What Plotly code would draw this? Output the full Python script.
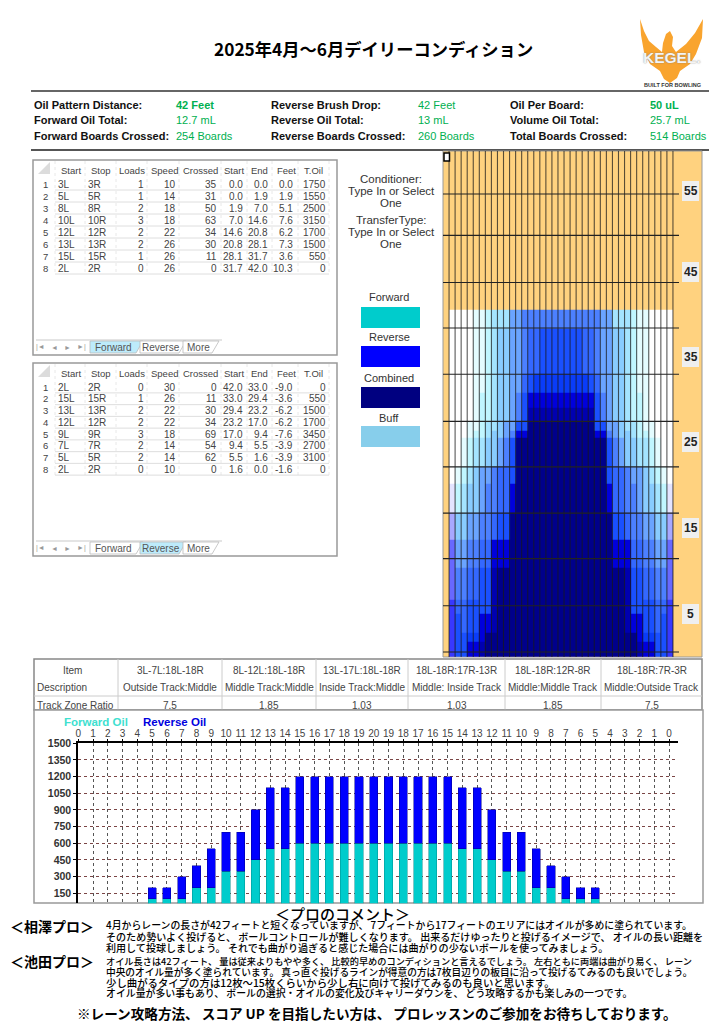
import plotly.graph_objects as go

W, H = 724, 1024
SANS = "Liberation Sans, Arial, sans-serif"
JP = "Noto Sans CJK JP, sans-serif"

# ---------------- data ----------------
title = "2025年4月～6月デイリーコンディション"
info_rows = [
    [("Oil Pattern Distance:", "42 Feet", True), ("Reverse Brush Drop:", "42 Feet", False), ("Oil Per Board:", "50 uL", True)],
    [("Forward Oil Total:", "12.7 mL", False), ("Reverse Oil Total:", "13 mL", False), ("Volume Oil Total:", "25.7 mL", False)],
    [("Forward Boards Crossed:", "254 Boards", False), ("Reverse Boards Crossed:", "260 Boards", False), ("Total Boards Crossed:", "514 Boards", False)],
]
table_header = ["Start", "Stop", "Loads", "Speed", "Crossed", "Start", "End", "Feet", "T.Oil"]
fwd_start = ["3L", "5L", "8L", "10L", "12L", "13L", "15L", "2L"]
fwd_stop = ["3R", "5R", "8R", "10R", "12R", "13R", "15R", "2R"]
fwd_loads = [1, 1, 2, 3, 2, 2, 1, 0]
fwd_speed = [10, 14, 18, 18, 22, 26, 26, 26]
fwd_crossed = [35, 31, 50, 63, 34, 30, 11, 0]
fwd_from = ["0.0", "0.0", "1.9", "7.0", "14.6", "20.8", "28.1", "31.7"]
fwd_end = ["0.0", "1.9", "7.0", "14.6", "20.8", "28.1", "31.7", "42.0"]
fwd_feet = ["0.0", "1.9", "5.1", "7.6", "6.2", "7.3", "3.6", "10.3"]
fwd_toil = [1750, 1550, 2500, 3150, 1700, 1500, 550, 0]
rev_start = ["2L", "15L", "13L", "12L", "9L", "7L", "5L", "2L"]
rev_stop = ["2R", "15R", "13R", "12R", "9R", "7R", "5R", "2R"]
rev_loads = [0, 1, 2, 2, 3, 2, 2, 0]
rev_speed = [30, 26, 22, 22, 18, 14, 14, 10]
rev_crossed = [0, 11, 30, 34, 69, 54, 62, 0]
rev_from = ["42.0", "33.0", "29.4", "23.2", "17.0", "9.4", "5.5", "1.6"]
rev_end = ["33.0", "29.4", "23.2", "17.0", "9.4", "5.5", "1.6", "0.0"]
rev_feet = ["-9.0", "-3.6", "-6.2", "-6.2", "-7.6", "-3.9", "-3.9", "-1.6"]
rev_toil = [0, 550, 1500, 1700, 3450, 2700, 3100, 0]

zone_items = ["3L-7L:18L-18R", "8L-12L:18L-18R", "13L-17L:18L-18R", "18L-18R:17R-13R", "18L-18R:12R-8R", "18L-18R:7R-3R"]
zone_desc = ["Outside Track:Middle", "Middle Track:Middle", "Inside Track:Middle", "Middle: Inside Track", "Middle:Middle Track", "Middle:Outside Track"]
zone_ratio = ["7.5", "1.85", "1.03", "1.03", "1.85", "7.5"]

board_labels = list(range(0, 21)) + list(range(19, -1, -1))
forward_oil = [0, 0, 0, 0, 0, 100, 100, 100, 200, 200, 350, 350, 450, 550, 550, 600, 600, 600, 600, 600, 600,
               600, 600, 600, 600, 600, 550, 550, 450, 350, 350, 200, 200, 100, 100, 100, 0, 0, 0, 0, 0]
reverse_oil = [0, 0, 0, 0, 0, 100, 100, 200, 200, 350, 350, 350, 450, 550, 550, 600, 600, 600, 600, 600, 600,
               600, 600, 600, 600, 600, 550, 550, 450, 350, 350, 350, 200, 200, 100, 100, 0, 0, 0, 0, 0]
oil_ticks = [150, 300, 450, 600, 750, 900, 1050, 1200, 1350, 1500]

heat_colors = ["#ffffff", "#e4fcff", "#c0f6ff", "#a4e4ff", "#88ccff", "#6aa4ff", "#4c80ff", "#3468ff", "#1a50ff",
               "#0a3cf8", "#0000dc", "#0000b0", "#00008b", "#e4e4ff", "#a8a8ff", "#6868ff", "#3838ff"]
band_feet = [42, 39.7, 34.2, 32, 30.1, 28.4, 27.4, 26.5, 23, 20.9, 17.5, 14.2, 10.8, 6.9, 5.2, 2.9, 1.8, 0]
band_levels = [
    [0, 0, 0, 0, 1, 1, 2, 3, 3, 3, 5, 5, 6, 6, 6, 6, 6, 6, 6],
    [0, 0, 0, 0, 1, 1, 2, 3, 4, 4, 5, 5, 6, 7, 7, 8, 8, 8, 8],
    [0, 0, 0, 0, 1, 1, 2, 3, 4, 4, 5, 5, 7, 8, 9, 9, 9, 9, 9],
    [0, 0, 0, 0, 1, 2, 2, 3, 4, 4, 5, 6, 8, 10, 10, 10, 10, 10, 10],
    [0, 0, 0, 0, 1, 2, 2, 3, 4, 4, 5, 6, 8, 11, 11, 11, 11, 11, 11],
    [0, 0, 0, 1, 1, 2, 3, 3, 4, 5, 5, 8, 8, 12, 12, 12, 12, 12, 12],
    [0, 0, 0, 1, 2, 2, 3, 4, 4, 5, 6, 10, 10, 12, 12, 12, 12, 12, 12],
    [0, 0, 1, 2, 3, 3, 4, 4, 5, 6, 8, 12, 12, 12, 12, 12, 12, 12, 12],
    [0, 1, 2, 3, 4, 5, 5, 6, 7, 7, 8, 12, 12, 12, 12, 12, 12, 12, 12],
    [13, 2, 3, 4, 4, 5, 6, 6, 7, 7, 10, 12, 12, 12, 12, 12, 12, 12, 12],
    [14, 4, 4, 5, 5, 6, 6, 7, 8, 8, 12, 12, 12, 12, 12, 12, 12, 12, 12],
    [15, 5, 5, 6, 6, 7, 7, 10, 10, 10, 12, 12, 12, 12, 12, 12, 12, 12, 12],
    [15, 6, 6, 7, 7, 8, 8, 11, 12, 12, 12, 12, 12, 12, 12, 12, 12, 12, 12],
    [16, 7, 7, 8, 8, 8, 8, 11, 12, 12, 12, 12, 12, 12, 12, 12, 12, 12, 12],
    [16, 8, 7, 8, 8, 10, 10, 11, 12, 12, 12, 12, 12, 12, 12, 12, 12, 12, 12],
    [16, 8, 8, 9, 9, 10, 12, 12, 12, 12, 12, 12, 12, 12, 12, 12, 12, 12, 12],
    [16, 8, 8, 10, 10, 11, 12, 12, 12, 12, 12, 12, 12, 12, 12, 12, 12, 12, 12],
]
lane_rule_feet = [0.6, 6.2, 11.9, 17.4, 23, 28.5, 34.2, 39.8, 45.3, 51, 56]
lane_labels = ["55", "45", "35", "25", "15", "5"]
legend_names = ["Forward", "Reverse", "Combined", "Buff"]
legend_colors = ["#00CCCC", "#0000FF", "#000080", "#87CEEB"]

comment_aizawa = [
    "4月からレーンの長さが42フィートと短くなっていますが、 7フィートから17フィートのエリアにはオイルが多めに塗られています。",
    "そのため勢いよく投げると、 ボールコントロールが難しくなります。 出来るだけゆったりと投げるイメージで、 オイルの長い距離を",
    "利用して投球しましょう。 それでも曲がり過ぎると感じた場合には曲がりの少ないボールを使ってみましょう。",
]
comment_ikeda = [
    "オイル長さは42フィート、 量は従来よりもやや多く、 比較的早めのコンディションと言えるでしょう。 左右ともに両端は曲がり易く、 レーン",
    "中央のオイル量が多く塗られています。 真っ直ぐ投げるラインが得意の方は7枚目辺りの板目に沿って投げるてみるのも良いでしょう。",
    "少し曲がるタイプの方は12枚～15枚くらいから少し右に向けて投げてみるのも良いと思います。",
    "オイル量が多い事もあり、 ボールの選択・オイルの変化及びキャリーダウンを、 どう攻略するかも楽しみの一つです。",
]

# ---------------- helpers ----------------
annotations, shapes = [], []


def px(x):
    return x / W


def py(y):
    return 1 - y / H


def text(x, y, s, size=10, color="#222", anchor="left", weight=400, family=SANS, **kw):
    font = dict(size=size, color=color, family=family, weight=weight)
    font.update(kw.pop("font_extra", {}))
    annotations.append(dict(x=px(x), y=py(y), xref="paper", yref="paper", text=s, showarrow=False, xanchor=anchor,
                            yanchor="middle", font=font, borderpad=0, **kw))


def rect(x0, y0, x1, y1, fill=None, line=None, width=1, layer="below"):
    shapes.append(dict(type="rect", xref="paper", yref="paper", x0=px(x0), x1=px(x1), y0=py(y0), y1=py(y1),
                       fillcolor=fill if fill else "rgba(0,0,0,0)",
                       line=dict(color=line if line else "rgba(0,0,0,0)", width=width if line else 0), layer=layer))


def seg(x0, y0, x1, y1, color="#888", width=1, dash="solid", layer="below"):
    shapes.append(dict(type="line", xref="paper", yref="paper", x0=px(x0), x1=px(x1), y0=py(y0), y1=py(y1),
                       line=dict(color=color, width=width, dash=dash), layer=layer))


def poly(points, fill=None, line=None, width=1, layer="above"):
    d = "M " + " L ".join(f"{px(a):.5f} {py(b):.5f}" for a, b in points) + " Z"
    shapes.append(dict(type="path", xref="paper", yref="paper", path=d, fillcolor=fill if fill else "rgba(0,0,0,0)",
                       line=dict(color=line if line else "rgba(0,0,0,0)", width=width if line else 0), layer=layer))


# ---------------- header ----------------
text(374, 48, title, size=17.3, color="#000", anchor="center", weight=700, family=JP)
seg(31, 91, 709, 91, "#333", 1.5)
seg(31, 150, 709, 150, "#555", 2)
for r, yy in zip(info_rows, [105, 120, 135.5]):
    for (lab, val, bold), xl, xv in zip(r, [33, 270, 509], [175, 417, 649]):
        text(xl, yy, lab, size=11, color="#111", weight=700)
        text(xv, yy, val, size=11, color="#00B050", weight=700 if bold else 400)

poly([(640, 19), (644, 31), (649, 41), (656, 47), (662, 52), (663, 43), (666, 34), (670, 31), (673, 37), (672, 46),
      (676, 52), (686, 44), (695, 33), (703, 19), (702, 38), (696, 54), (690, 64), (680, 71), (677, 78), (670, 83),
      (664, 79), (660, 71), (650, 64), (644, 52), (641, 35)], fill="#F9A42E", layer="below")
text(672, 57, "KEGEL.", size=15.5, color="#f4f4f4", anchor="center", weight=700,
     font_extra=dict(shadow="0 0 1.5px #777"))
text(672, 85, "BUILT FOR BOWLING", size=5.5, color="#333", anchor="center", weight=700)


# ---------------- oil pattern tables ----------------
col_lines = [55, 85, 116, 147, 179, 221, 247, 272, 298, 329]
head_x = [71, 101, 132, 164, 200, 234, 259, 286, 313]
cell_x = [57, 87, 145, 177, 218, 244, 269, 294, 327]


def sheet(top, bottom, head_y, row0, step, columns, active):
    rect(33, top, 337, bottom, fill="#fff", line="#999", width=1.5)
    poly([(50, head_y - 8), (50, head_y + 4), (38, head_y + 4)], fill="#dcdcdc", layer="below")
    grid_bot = row0 + 7.5 * step
    for x in col_lines:
        seg(x, head_y - 9, x, grid_bot, "#e2e2e2", 0.8, "dot")
    for i in range(8):
        seg(55, row0 + (i + 0.5) * step, 329, row0 + (i + 0.5) * step, "#d6d6d6", 0.8)
    for s, x in zip(table_header, head_x):
        text(x, head_y, s, size=9.5, color="#444", anchor="center")
    for i in range(8):
        y = row0 + i * step
        text(45, y, str(i + 1), size=9.5, color="#444", anchor="center")
        for j, (col, x) in enumerate(zip(columns, cell_x)):
            text(x, y, str(col[i]), size=10, color="#444", anchor="left" if j < 2 else "right")
    ty = bottom - 8
    seg(36, ty - 7, 222, ty - 7, "#bbb", 0.8)
    for sym, x in zip(["|◄", "◄", "►", "►|"], [40, 54, 67, 81]):
        text(x, ty, sym, size=7, color="#999", anchor="center")
    tabs = [("Forward", 90, 138), ("Reverse", 140, 181), ("More", 183, 214)]
    for name, x0, x1 in tabs:
        on = name == active
        poly([(x0, ty - 6), (x1 + 5, ty - 6), (x1 - 2, ty + 6), (x0, ty + 6)], fill="#BDEBFB" if on else "#fff",
             line="#bbb", width=0.8, layer="below")
        text((x0 + x1) / 2, ty, name, size=10, color="#555", anchor="center")


sheet(160, 355, 170, 184, 12, [fwd_start, fwd_stop, fwd_loads, fwd_speed, fwd_crossed, fwd_from, fwd_end, fwd_feet, fwd_toil], "Forward")
sheet(363, 556, 373, 387, 11.75, [rev_start, rev_stop, rev_loads, rev_speed, rev_crossed, rev_from, rev_end, rev_feet, rev_toil], "Reverse")

# ---------------- middle labels and legend ----------------
for s, y in zip(["Conditioner:", "Type In or Select", "One", "TransferType:", "Type In or Select", "One"],
                [179, 191, 203, 220, 232, 244]):
    text(391, y, s, size=11.5, color="#333", anchor="center")
for name, color, ly, t0 in zip(legend_names, legend_colors, [297, 337, 378, 418], [307, 346, 387, 426]):
    text(389, ly, name, size=11, color="#333", anchor="center")
    rect(361, t0, 420, t0 + 21, fill=color)

# ---------------- lane frame ----------------
rect(443, 151, 702, 657, fill="#FFD27F", line="#999", width=1)
for s, y in zip(lane_labels, [191, 272, 357, 442, 528, 614]):
    rect(682, y - 10, 699, y + 10, fill="#EFEFEF")
    text(690.5, y, s, size=12, color="#222", anchor="center", weight=700)

# ---------------- zone table ----------------
rect(34, 659, 702, 710, fill="#fff", line="#888", width=1.5)
zone_edges = [118, 222, 316, 408, 505, 601, 702]
for x in zone_edges[:-1]:
    seg(x, 659, x, 710, "#ccc", 1)
seg(34, 696, 702, 696, "#ccc", 1)
text(72, 670, "Item", size=10, color="#444", anchor="center")
text(36, 687, "Description", size=10, color="#444")
text(36, 705, "Track Zone Ratio", size=10, color="#444")
for i in range(6):
    xc = (zone_edges[i] + zone_edges[i + 1]) / 2
    text(xc, 670, zone_items[i], size=10, color="#444", anchor="center")
    text(xc, 687.5, zone_desc[i], size=10, color="#444", anchor="center")
    text(xc, 705.5, zone_ratio[i], size=10, color="#444", anchor="center")

# ---------------- oil graph panel ----------------
rect(34, 710, 703, 903, fill="#fff", line="#999", width=1.5)
text(96, 722, "Forward Oil", size=11.5, color="#40E0D0", anchor="center", weight=700)
text(174.5, 722, "Reverse Oil", size=11.5, color="#0000E0", anchor="center", weight=700)

# ---------------- comments ----------------
text(342, 913, "＜プロのコメント＞", size=15, color="#000", anchor="center", family=JP, weight=500)
text(9, 926, "＜相澤プロ＞", size=14, color="#000", family=JP, weight=700)
text(9, 961, "＜池田プロ＞", size=14, color="#000", family=JP, weight=700)
for s, y, fs in zip(comment_aizawa, [925, 936, 947], [9.9, 10.05, 10.05]):
    text(105, y, s, size=fs, color="#000", family=JP, weight=500)
for s, y, fs in zip(comment_ikeda, [961, 972, 982.5, 993], [9.2, 9.7, 10.4, 9.9]):
    text(105, y, s, size=fs, color="#000", family=JP, weight=500)
text(377, 1013, "※レーン攻略方法、 スコア UP を目指したい方は、 プロレッスンのご参加をお待ちしております。", size=13.6, color="#000",
     anchor="center", family=JP, weight=700)

# ---------------- traces ----------------
fig = go.Figure()
board_index = list(range(len(board_labels)))
fig.add_trace(go.Bar(x=board_index, y=forward_oil, marker=dict(color="#00CCCC", line=dict(color="#008f8f", width=0.5)),
                     width=0.55, name="Forward Oil", showlegend=False, hoverinfo="skip"))
fig.add_trace(go.Bar(x=board_index, y=reverse_oil, marker=dict(color="#0000FF", line=dict(color="#000090", width=0.5)),
                     width=0.55, name="Reverse Oil", showlegend=False, hoverinfo="skip"))

z_rows = [row + row[-2::-1] for row in band_levels]
z_rows = z_rows[::-1]
y_edges = band_feet[::-1]
n_boards = len(z_rows[0])
n_lvl = len(heat_colors) - 1
fig.add_trace(go.Heatmap(z=z_rows, x=list(range(n_boards + 1)), y=y_edges, xaxis="x2", yaxis="y2", zmin=0, zmax=n_lvl,
                         colorscale=[[i / n_lvl, c] for i, c in enumerate(heat_colors)], showscale=False, hoverinfo="skip"))

vx, vy = [], []
for b in range(n_boards + 1):
    vx += [b, b, None]
    vy += [0, 61.2, None]
fig.add_trace(go.Scatter(x=vx, y=vy, mode="lines", xaxis="x2", yaxis="y2", line=dict(color="rgba(25,25,25,0.72)", width=1.1),
                         showlegend=False, hoverinfo="skip"))
hx, hy = [], []
for f in lane_rule_feet:
    hx += [-1, n_boards + 1, None]
    hy += [f, f, None]
fig.add_trace(go.Scatter(x=hx, y=hy, mode="lines", xaxis="x2", yaxis="y2", line=dict(color="#222", width=1.1),
                         showlegend=False, hoverinfo="skip"))

rect(444, 153, 449.5, 161, fill="#fff", line="#000", width=1.5, layer="above")

fig.update_layout(
    width=W, height=H, autosize=False, margin=dict(l=0, r=0, t=0, b=0, pad=0, autoexpand=False),
    paper_bgcolor="#fff", plot_bgcolor="rgba(0,0,0,0)", barmode="stack", bargap=0.45, showlegend=False,
    xaxis=dict(domain=[px(78.3), px(678)], range=[0, 40.6], side="top", tickmode="array", tickvals=board_index,
               ticktext=[str(v) for v in board_labels], tickfont=dict(size=10, color="#444", family=SANS), tickangle=0,
               ticks="outside", ticklen=2, tickwidth=1, tickcolor="#000", showline=True, linecolor="#000", linewidth=2,
               ticklabelstandoff=-2,
               showgrid=True, gridcolor="#555", griddash="dot", gridwidth=1, zeroline=False, fixedrange=True, anchor="y"),
    yaxis=dict(domain=[py(903.3), py(743.3)], range=[60, 1500], tickmode="array", tickvals=oil_ticks,
               tickfont=dict(size=10.5, color="#333", family=SANS, weight=700), ticks="outside", ticklen=3, tickcolor="#000",
               showline=True, linecolor="#000", linewidth=2, showgrid=True, gridcolor="#7a4545", griddash="dot",
               gridwidth=1, zeroline=False, fixedrange=True, anchor="x"),
    xaxis2=dict(domain=[px(443), px(679)], range=[-1, 38], visible=False, fixedrange=True, anchor="y2"),
    yaxis2=dict(domain=[py(657), py(151)], range=[0, 61.2], visible=False, fixedrange=True, anchor="x2"),
    annotations=annotations, shapes=shapes,
)

fig.write_html("out.html", config=dict(displayModeBar=False, responsive=False),
               post_script="document.body.style.margin='0';document.documentElement.style.overflow='hidden';")
